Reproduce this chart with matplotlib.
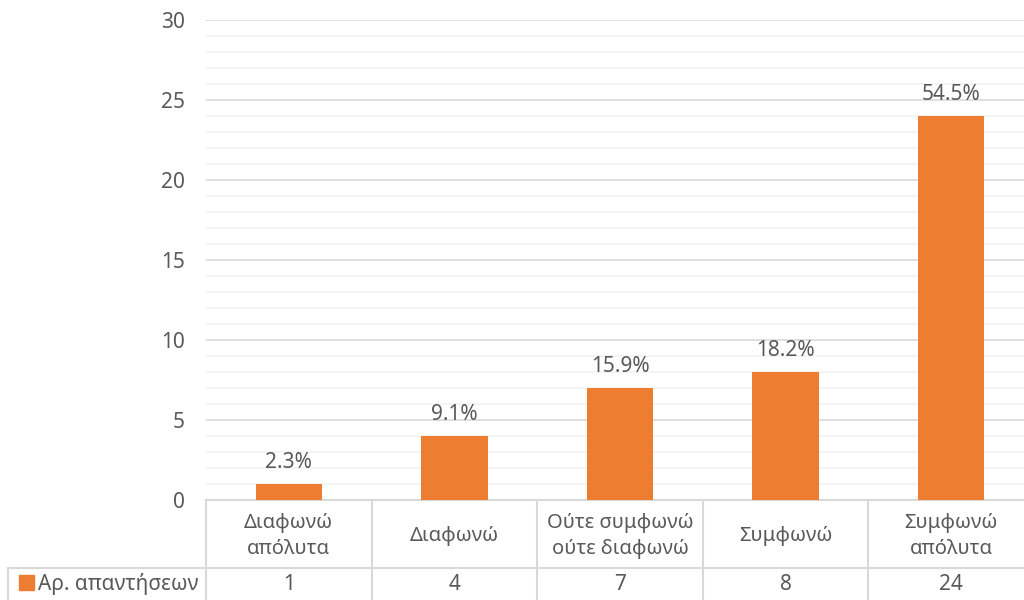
import numpy as np
import matplotlib.pyplot as plt
from matplotlib.transforms import blended_transform_factory
from matplotlib.patches import Rectangle

plt.rcParams['font.family'] = ['Noto Sans', 'DejaVu Sans']

categories = ['Διαφωνώ\nαπόλυτα', 'Διαφωνώ', 'Ούτε συμφωνώ\nούτε διαφωνώ', 'Συμφωνώ', 'Συμφωνώ\nαπόλυτα']
counts = [1, 4, 7, 8, 24]
series_name = 'Αρ. απαντήσεων'
yticks = [0, 5, 10, 15, 20, 25, 30]

orange = '#ED7D31'
txt = '#595959'
grid_major = '#D9D9D9'
grid_minor = '#F2F2F2'

W, H = 1024, 600
fig = plt.figure(figsize=(W / 100, H / 100), dpi=100)
# plot area runs a little past the right edge of the canvas
ax = fig.add_axes([206 / W, 100 / H, 828 / W, 480 / H])

x = np.arange(len(categories))
ax.bar(x, counts, width=0.4, color=orange, zorder=3)

total = sum(counts)
for xi, c in zip(x, counts):
    ax.annotate(f'{c / total * 100:.1f}%', (xi, c), xytext=(0, 8), textcoords='offset points',
                ha='center', va='bottom', fontsize=15, color=txt)

ax.set_xlim(-0.5, len(categories) - 0.5)
ax.set_ylim(0, 30)
ax.set_yticks(yticks)
ax.set_yticks(np.arange(0, 31, 1), minor=True)
ax.set_yticklabels([str(t) for t in yticks], fontsize=15, color=txt)
ax.tick_params(axis='y', which='both', length=0, pad=15)
ax.set_xticks([])
ax.grid(axis='y', which='major', color=grid_major, linewidth=1.2, zorder=0)
ax.grid(axis='y', which='minor', color=grid_minor, linewidth=1.2, zorder=0)
for s in ax.spines.values():
    s.set_visible(False)

# data table under the plot: x in category units, y in figure pixels
trans = blended_transform_factory(ax.transData, fig.dpi_scale_trans)
fig_px = lambda px: (H - px) / 100
left_edge = ax.transData.inverted().transform((8, 0))[0]

def hline(x0, x1, ypx):
    ax.plot([x0, x1], [fig_px(ypx)] * 2, color=grid_major, lw=1.5, transform=trans, clip_on=False)

def vline(xv, y0, y1):
    ax.plot([xv, xv], [fig_px(y0), fig_px(y1)], color=grid_major, lw=1.5, transform=trans, clip_on=False)

hline(-0.5, len(categories) - 0.5, 500)
hline(left_edge, len(categories) - 0.5, 568)
for b in np.arange(-0.5, len(categories), 1.0):
    vline(b, 500, 600)
vline(left_edge, 568, 600)

for xi, cat, c in zip(x, categories, counts):
    ax.text(xi, fig_px(536), cat, transform=trans, ha='center', va='center',
            fontsize=14.5, color=txt, linespacing=1.35)
    ax.text(xi, fig_px(585), str(c), transform=trans, ha='center', va='center',
            fontsize=15, color=txt)

# legend key in the row header
fig.patches.append(Rectangle((19 / W, (H - 590) / H), 15 / W, 15 / H, color=orange,
                             transform=fig.transFigure))
fig.text(38 / W, (H - 584) / H, series_name, ha='left', va='center', fontsize=15, color=txt)

fig.savefig('out.png', dpi=100)
